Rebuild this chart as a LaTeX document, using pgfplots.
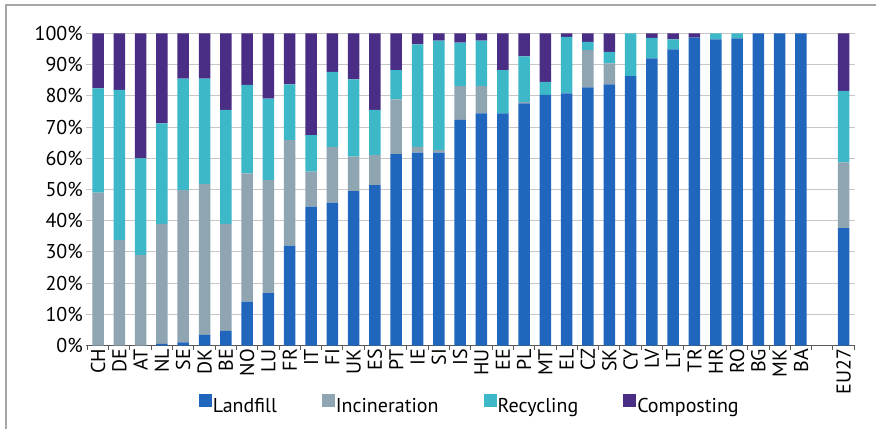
\documentclass[border=0pt]{standalone}
\usepackage{pgfplots}
\pgfplotsset{compat=1.18}
\usepackage{pgfplotstable}
\usepackage{fontspec}
\setmainfont{PT Sans}
\newcommand\ff{\fontsize{20}{24}\selectfont}
\definecolor{cLand}{HTML}{1F66BC}
\definecolor{cInc}{HTML}{8FA5B2}
\definecolor{cRec}{HTML}{3DB8C8}
\definecolor{cComp}{HTML}{4A2D85}
\pgfplotstableread{
x  L     I     R     C
0  0     49    33.4  17.6
1  0     33.8  48.1  18.1
2  0     29    31    40
3  0.5   38.5  32.2  28.8
4  1     48.8  35.7  14.5
5  3.4   48.3  33.8  14.5
6  4.7   34.3  36.5  24.5
7  14.1  41.1  28.3  16.5
8  16.8  36.2  26.1  20.9
9  32    33.8  17.9  16.3
10 44.5  11.2  11.7  32.6
11 45.8  17.9  24    12.3
12 49.5  11    24.8  14.7
13 51.4  9.6   14.5  24.5
14 61.3  17.6  9.4   11.7
15 61.8  1.9   32.8  3.5
16 61.8  0.8   35.1  2.3
17 72.3  10.8  14    2.9
18 74.4  8.7   14.6  2.3
19 74.4  0     13.9  11.7
20 77.6  0.5   14.6  7.3
21 80.3  0     4.2   15.5
22 80.8  0     18.1  1.1
23 82.7  12    2.6   2.7
24 83.7  6.7   3.7   5.9
25 86.3  0     13.7  0
26 92    0     6.6   1.4
27 94.9  0     3.2   1.9
28 98.7  0     0     1.3
29 98.1  0     1.9   0
30 98.4  0     1.6   0
31 100   0     0     0
32 100   0     0     0
33 100   0     0     0
35 37.6  21.1  22.9  18.4
}\data
\begin{document}
\begin{tikzpicture}[x=1pt,y=1pt]
\path[use as bounding box] (0,0) rectangle (876,429);
\draw[gray!70, line width=1.2pt] (6,0) -- (6,424) -- (876,424);
\begin{axis}[
  at={(86.3pt,83.5pt)}, anchor=south west,
  scale only axis, width=769pt, height=312pt,
  ybar stacked, bar width=11.5pt,
  xmin=-0.55, xmax=35.55, ymin=0, ymax=100,
  axis x line*=bottom, axis y line*=left,
  y axis line style={draw=none},
  x axis line style={draw=black!65, line width=1pt},
  xtick={0,...,33,35},
  xticklabels={CH,DE,AT,NL,SE,DK,BE,NO,LU,FR,IT,FI,UK,ES,PT,IE,SI,IS,HU,EE,PL,MT,EL,CZ,SK,CY,LV,LT,TR,HR,RO,BG,MK,BA,EU27},
  minor xtick={-0.5,0.5,...,35.5},
  major tick length=0pt, minor tick length=4pt, tick align=outside,
  minor tick style={draw=black!65, line width=1pt},
  ytick={0,10,...,100},
  yticklabel={\pgfmathprintnumber{\tick}\%},
  /pgf/number format/assume math mode=true,
  tick label style={font=\ff, text=black},
  xticklabel style={rotate=90, anchor=east},
  ymajorgrids, grid style={draw=black!22, line width=1pt},
  legend style={at={(0.498,-0.189)}, anchor=center, draw=none, fill=none,
    font=\ff, legend columns=-1, inner sep=0pt,
    nodes={inner sep=1pt},
    /tikz/every even column/.append style={column sep=44pt}},
  legend image code/.code={\fill[#1] (0pt,0pt) rectangle (13pt,13pt);},
]
\addplot[fill=cLand, draw=none] table[x=x,y=L]{\data};
\addplot[fill=cInc, draw=none] table[x=x,y=I]{\data};
\addplot[fill=cRec, draw=none] table[x=x,y=R]{\data};
\addplot[fill=cComp, draw=none] table[x=x,y=C]{\data};
\legend{Landfill,Incineration,Recycling,Composting}
\end{axis}
\end{tikzpicture}
\end{document}
